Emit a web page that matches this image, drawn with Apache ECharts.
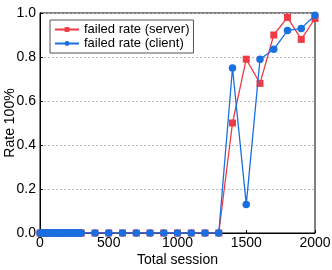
<!DOCTYPE html>
<html><head><meta charset="utf-8">
<script src="https://cdn.jsdelivr.net/npm/echarts@6/dist/echarts.min.js"></script>
<style>html,body{margin:0;padding:0;background:#fff}#c{width:332px;height:270px}</style>
</head><body><div id="c"></div>
<script>
const xs = [0,10,20,30,40,50,60,70,80,90,100,110,120,130,140,150,160,170,180,190,200,210,220,230,240,250,260,270,280,290,300,400,500,600,700,800,900,1000,1100,1200,1300,1400,1500,1600,1700,1800,1900,2000];
const serverTail = [0.50,0.79,0.68,0.90,0.98,0.88,0.975];
const clientTail = [0.75,0.13,0.79,0.835,0.92,0.93,0.99];
const serverRate = xs.map((x,i)=> i < xs.length-7 ? 0 : serverTail[i-(xs.length-7)]);
const clientRate = xs.map((x,i)=> i < xs.length-7 ? 0 : clientTail[i-(xs.length-7)]);
const xTicks = [0,500,1000,1500,2000];
const yTicks = [0,0.2,0.4,0.6,0.8,1.0];
const font = 'Liberation Sans, Arial, sans-serif';
const chart = echarts.init(document.getElementById('c'));
chart.setOption({
  animation:false,
  grid:{left:40,right:17,top:13,bottom:37,show:true,borderColor:'#000',borderWidth:1,containLabel:false,outerBoundsMode:'none'},
  legend:{left:50,top:20,orient:'vertical',itemGap:1,itemWidth:24,itemHeight:6,
    borderColor:'#555',borderWidth:1,padding:[3,4,3,4],backgroundColor:'#fff',
    textStyle:{fontFamily:font,fontSize:13,color:'#000'},
    data:['failed rate (server)','failed rate (client)']},
  xAxis:{type:'value',min:0,max:2000,interval:500,name:'Total session',nameLocation:'middle',nameGap:20,nameMoveOverlap:false,
    nameTextStyle:{fontFamily:font,fontSize:14,color:'#000'},
    axisLine:{lineStyle:{color:'#000'}},axisTick:{inside:true,length:3,lineStyle:{color:'#000'}},
    axisLabel:{fontFamily:font,fontSize:14,color:'#000',margin:3,formatter:v=>String(v)},splitLine:{show:false}},
  yAxis:{type:'value',min:0,max:1,interval:0.2,name:'Rate 100%',nameLocation:'middle',nameGap:23,nameMoveOverlap:false,
    nameTextStyle:{fontFamily:font,fontSize:14,color:'#000'},
    axisLine:{show:true,lineStyle:{color:'#000'}},axisTick:{show:true,inside:true,length:3,lineStyle:{color:'#000'}},
    axisLabel:{fontFamily:font,fontSize:14,color:'#000',margin:4,formatter:v=>v.toFixed(1)},
    splitLine:{show:true,lineStyle:{color:'#bbb',type:[2,2],width:1}}},
  series:[
    {name:'failed rate (server)',type:'line',data:xs.map((x,i)=>[x,serverRate[i]]),symbol:'rect',symbolSize:7,
      itemStyle:{color:'#ef3b45'},lineStyle:{color:'#ef3b45',width:1.3},z:2},
    {name:'failed rate (client)',type:'line',data:xs.map((x,i)=>[x,clientRate[i]]),symbol:'circle',symbolSize:7.5,
      itemStyle:{color:'#1a6fe0'},lineStyle:{color:'#1a6fe0',width:1.3},z:3}
  ]
});
</script></body></html>
